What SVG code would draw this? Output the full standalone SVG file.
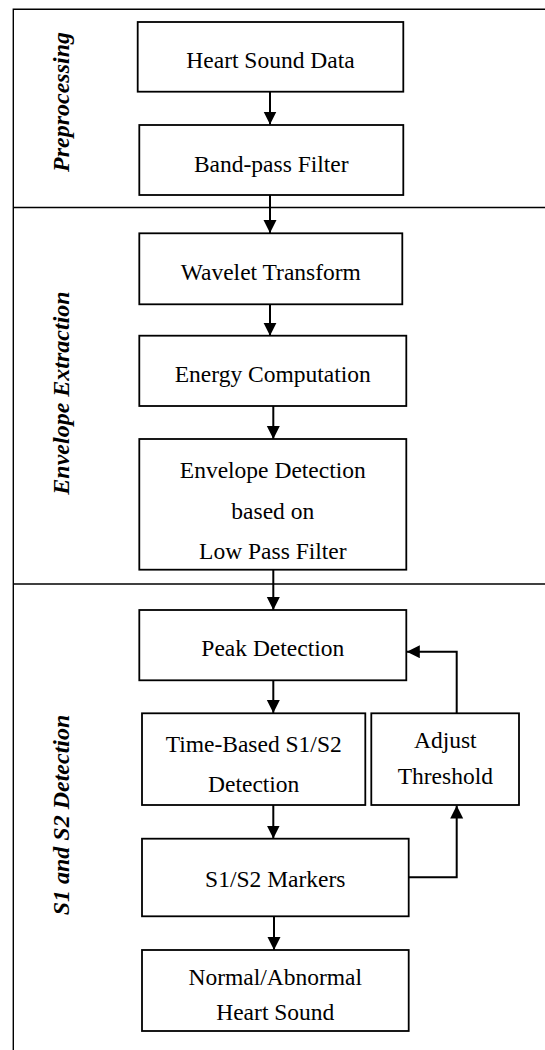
<svg xmlns="http://www.w3.org/2000/svg" width="545" height="1050" viewBox="0 0 545 1050">
<style>
.frame{stroke:#000;stroke-width:1.4;fill:none}
.box{fill:#fff;stroke:#000;stroke-width:1.8}
.t{font-family:"Liberation Serif","Times New Roman",serif;font-size:23.5px;fill:#000;text-anchor:middle}
.lbl{font-family:"Liberation Serif","Times New Roman",serif;font-size:24px;font-weight:bold;font-style:italic;fill:#000;text-anchor:middle}
.c{stroke:#000;stroke-width:2;fill:none;marker-end:url(#ah)}
</style>
<defs>
<marker id="ah" markerUnits="userSpaceOnUse" markerWidth="14" markerHeight="14" refX="13" refY="6.5" orient="auto">
<path d="M0,0 L13,6.5 L0,13 z" fill="#000"/>
</marker>
</defs>
<rect width="545" height="1050" fill="#fff"/>
<g id="frame">
<path class="frame" d="M545,9.3 H13.3 V1050"/>
<line class="frame" x1="13.3" y1="207.5" x2="545" y2="207.5"/>
<line class="frame" x1="13.3" y1="584" x2="545" y2="584"/>
<text class="lbl" transform="translate(69,102) rotate(-90)">Preprocessing</text>
<text class="lbl" transform="translate(69,393) rotate(-90)">Envelope Extraction</text>
<text class="lbl" transform="translate(69,815) rotate(-90)">S1 and S2 Detection</text>
</g>
<g id="connectors">
<line class="c" x1="270" y1="91.7" x2="270" y2="124.5"/>
<line class="c" x1="270" y1="195" x2="270" y2="233"/>
<line class="c" x1="270" y1="304.3" x2="270" y2="335.7"/>
<line class="c" x1="273.3" y1="406" x2="273.3" y2="439"/>
<line class="c" x1="273.3" y1="569.7" x2="273.3" y2="610"/>
<line class="c" x1="273.3" y1="680.3" x2="273.3" y2="713"/>
<line class="c" x1="273.3" y1="805" x2="273.3" y2="838.5"/>
<line class="c" x1="274" y1="916.3" x2="274" y2="950"/>
<path class="c" d="M408.7,877.3 H456.7 V805.5"/>
<path class="c" d="M456.7,713.3 V651.7 H406.8"/>
</g>
<g id="n1"><rect class="box" x="137.7" y="22" width="265.6" height="69.7"/><text class="t" x="270.5" y="68.3">Heart Sound Data</text></g>
<g id="n2"><rect class="box" x="139.3" y="125" width="264" height="70"/><text class="t" x="271.3" y="171.7">Band-pass Filter</text></g>
<g id="n3"><rect class="box" x="139.3" y="233.3" width="263" height="71"/><text class="t" x="270.8" y="280">Wavelet Transform</text></g>
<g id="n4"><rect class="box" x="139.3" y="335.7" width="267" height="70.3"/><text class="t" x="272.8" y="381.7">Energy Computation</text></g>
<g id="n5"><rect class="box" x="139.3" y="439" width="267" height="130.7"/><text class="t" x="272.8" y="478.3">Envelope Detection</text><text class="t" x="272.8" y="519.3">based on</text><text class="t" x="272.8" y="559">Low Pass Filter</text></g>
<g id="n6"><rect class="box" x="139.3" y="610" width="267" height="70.3"/><text class="t" x="272.8" y="655.7">Peak Detection</text></g>
<g id="n7"><rect class="box" x="142" y="713.3" width="223.3" height="91.7"/><text class="t" x="253.7" y="751.7">Time-Based S1/S2</text><text class="t" x="253.7" y="791.7">Detection</text></g>
<g id="n8"><rect class="box" x="371.3" y="713.3" width="147.7" height="91.7"/><text class="t" x="445.3" y="748">Adjust</text><text class="t" x="445.3" y="784">Threshold</text></g>
<g id="n9"><rect class="box" x="142" y="838.7" width="266.7" height="77.6"/><text class="t" x="275.3" y="887.3">S1/S2 Markers</text></g>
<g id="n10"><rect class="box" x="142" y="950" width="266.7" height="81"/><text class="t" x="275.3" y="985">Normal/Abnormal</text><text class="t" x="275.3" y="1020">Heart Sound</text></g>
</svg>
